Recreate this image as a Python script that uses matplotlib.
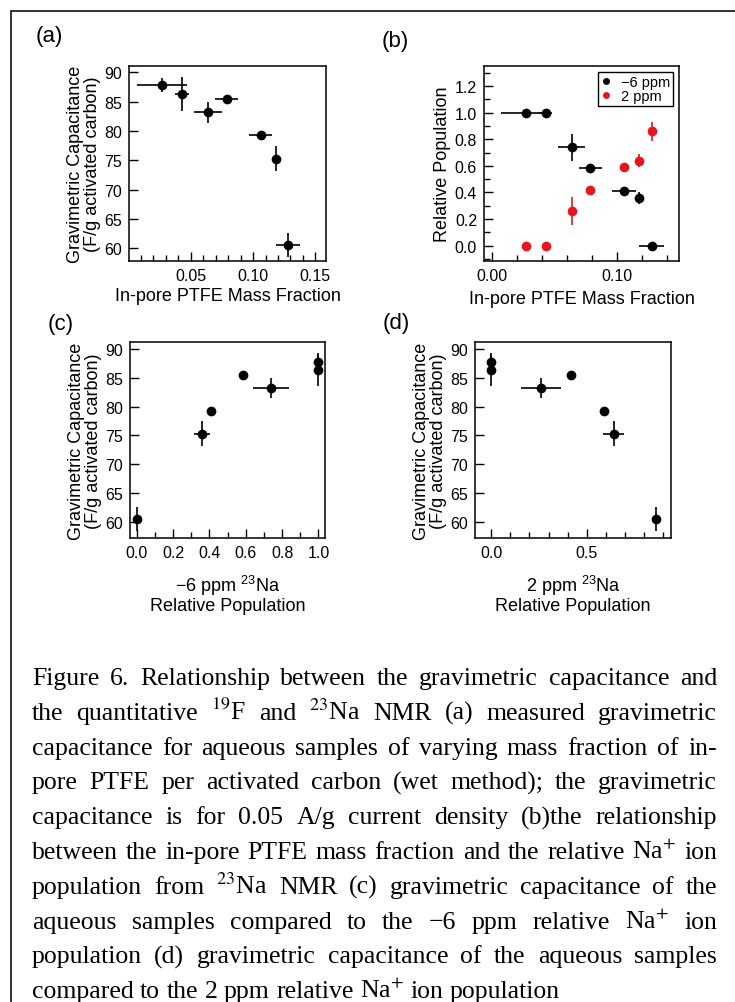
import matplotlib
matplotlib.use("Agg")
import matplotlib.pyplot as plt
from matplotlib.patches import Rectangle
from matplotlib.lines import Line2D
from matplotlib.ticker import MultipleLocator, FormatStrFormatter

plt.rcParams["font.family"] = ["Liberation Sans", "DejaVu Sans"]
plt.rcParams["mathtext.fontset"] = "custom"
plt.rcParams["mathtext.rm"] = "Liberation Sans"
plt.rcParams["mathtext.it"] = "Liberation Sans:italic"

# in-pore PTFE mass fraction of the seven aqueous samples
ptfe_frac = [0.027, 0.043, 0.064, 0.079, 0.106, 0.118, 0.128]
ptfe_err = [0.020, 0.0055, 0.011, 0.0093, 0.0095, 0.003, 0.010]

# gravimetric capacitance at 0.05 A/g, F/g activated carbon
cap = [87.8, 86.4, 83.2, 85.4, 79.3, 75.3, 60.5]
cap_err = [1.2, 2.9, 1.8, 0.3, 0.7, 2.2, 2.0]

# 23Na relative populations of the -6 ppm and 2 ppm environments
pop_m6 = [1.0, 1.0, 0.74, 0.585, 0.41, 0.36, 0.0]
pop_m6_err = [0.0, 0.0, 0.10, 0.015, 0.015, 0.045, 0.0]
pop_2 = [0.0, 0.0, 0.26, 0.415, 0.59, 0.64, 0.86]
pop_2_err = [0.0, 0.0, 0.104, 0.01, 0.01, 0.05, 0.07]
pop_2_xerr = [0.0, 0.0, 0.104, 0.01, 0.015, 0.055, 0.0]

RED = "#e3171d"
CAP_LABEL = "Gravimetric Capacitance\n(F/g activated carbon)"
PTFE_LABEL = "In-pore PTFE Mass Fraction"
LABEL_SIZE = 13
TICK_SIZE = 11.5

caption_lines = [
    "Figure 6. Relationship between the gravimetric capacitance and",
    "the quantitative $^{19}$F and $^{23}$Na NMR (a) measured gravimetric",
    "capacitance for aqueous samples of varying mass fraction of in-",
    "pore PTFE per activated carbon (wet method); the gravimetric",
    "capacitance is for 0.05 A/g current density (b)the relationship",
    "between the in-pore PTFE mass fraction and the relative Na$^{+}$ ion",
    "population from $^{23}$Na NMR (c) gravimetric capacitance of the",
    "aqueous samples compared to the \u22126 ppm relative Na$^{+}$ ion",
    "population (d) gravimetric capacitance of the aqueous samples",
    "compared to the 2 ppm relative Na$^{+}$ ion population",
]

W, H = 735, 1003
fig = plt.figure(figsize=(W / 100, H / 100), dpi=100)


def px_axes(left, top, right, bottom):
    return fig.add_axes([left / W, 1 - bottom / H, (right - left) / W, (bottom - top) / H])


def style(ax):
    for s in ax.spines.values():
        s.set_linewidth(1.1)
    ax.tick_params(which="both", direction="in", width=1.0, labelsize=TICK_SIZE, pad=5)
    ax.tick_params(which="major", length=6.5)
    ax.tick_params(which="minor", length=4)


def draw(ax, x, y, xerr, yerr, color="black"):
    ax.errorbar(x, y, xerr=xerr, yerr=yerr, fmt="o", color=color, ms=7, mew=0,
                ecolor=color, elinewidth=1.2, capsize=2.2, capthick=1.2)


# (a) capacitance vs PTFE fraction
ax_a = px_axes(129, 67, 326, 262)
draw(ax_a, ptfe_frac, cap, ptfe_err, cap_err)
ax_a.set_xlim(0.0005, 0.1585)
ax_a.set_ylim(57.8, 91.1)
ax_a.xaxis.set_major_locator(MultipleLocator(0.05))
ax_a.xaxis.set_minor_locator(MultipleLocator(0.01))
ax_a.xaxis.set_major_formatter(FormatStrFormatter("%.2f"))
ax_a.yaxis.set_major_locator(MultipleLocator(5))
ax_a.set_xlabel(PTFE_LABEL, fontsize=LABEL_SIZE, labelpad=3)
ax_a.set_ylabel(CAP_LABEL, fontsize=LABEL_SIZE, labelpad=2, linespacing=1.0)
style(ax_a)

# (b) relative population vs PTFE fraction
ax_b = px_axes(484, 67, 679, 262)
draw(ax_b, ptfe_frac, pop_m6, ptfe_err, pop_m6_err)
draw(ax_b, ptfe_frac, pop_2, None, pop_2_err, color=RED)
ax_b.set_xlim(-0.0064, 0.150)
ax_b.set_ylim(-0.115, 1.35)
ax_b.xaxis.set_major_locator(MultipleLocator(0.1))
ax_b.xaxis.set_minor_locator(MultipleLocator(0.02))
ax_b.xaxis.set_major_formatter(FormatStrFormatter("%.2f"))
ax_b.yaxis.set_major_locator(MultipleLocator(0.2))
ax_b.yaxis.set_minor_locator(MultipleLocator(0.1))
ax_b.yaxis.set_major_formatter(FormatStrFormatter("%.1f"))
ax_b.set_xlabel(PTFE_LABEL, fontsize=LABEL_SIZE, labelpad=5)
ax_b.set_ylabel("Relative Population", fontsize=LABEL_SIZE, labelpad=3)
handles = [Line2D([], [], ls="", marker="o", ms=5, mew=0, color="black"),
           Line2D([], [], ls="", marker="o", ms=5, mew=0, color=RED)]
leg = ax_b.legend(handles, ["\u22126 ppm", "2 ppm"], loc="upper right", fontsize=10.5,
                  frameon=True, fancybox=False, framealpha=1, edgecolor="black",
                  handlelength=0.8, handletextpad=0.6, borderpad=0.2,
                  labelspacing=0.0, borderaxespad=0.4)
leg.get_frame().set_linewidth(1.0)
style(ax_b)

# (c) capacitance vs -6 ppm population
ax_c = px_axes(130, 343, 325, 539)
draw(ax_c, pop_m6, cap, pop_m6_err, cap_err)
ax_c.set_xlim(-0.037, 1.036)
ax_c.set_ylim(57.2, 91.2)
ax_c.xaxis.set_major_locator(MultipleLocator(0.2))
ax_c.xaxis.set_minor_locator(MultipleLocator(0.1))
ax_c.xaxis.set_major_formatter(FormatStrFormatter("%.1f"))
ax_c.yaxis.set_major_locator(MultipleLocator(5))
ax_c.set_xlabel("\u22126 ppm $^{\\mathrm{23}}$Na\nRelative Population", fontsize=LABEL_SIZE,
                labelpad=9, linespacing=1.0)
ax_c.set_ylabel(CAP_LABEL, fontsize=LABEL_SIZE, labelpad=2, linespacing=1.0)
style(ax_c)

# (d) capacitance vs 2 ppm population
ax_d = px_axes(475, 343, 671, 539)
draw(ax_d, pop_2, cap, pop_2_xerr, cap_err)
ax_d.set_xlim(-0.084, 0.94)
ax_d.set_ylim(57.2, 91.2)
ax_d.xaxis.set_major_locator(MultipleLocator(0.5))
ax_d.xaxis.set_minor_locator(MultipleLocator(0.1))
ax_d.xaxis.set_major_formatter(FormatStrFormatter("%.1f"))
ax_d.yaxis.set_major_locator(MultipleLocator(5))
ax_d.set_xlabel("2 ppm $^{\\mathrm{23}}$Na\nRelative Population", fontsize=LABEL_SIZE,
                labelpad=9, linespacing=1.0)
ax_d.set_ylabel(CAP_LABEL, fontsize=LABEL_SIZE, labelpad=2, linespacing=1.0)
style(ax_d)

# panel letters
for lbl, x, y in [("(a)", 36, 42), ("(b)", 382, 47), ("(c)", 48, 330), ("(d)", 383, 329)]:
    fig.text(x / W, 1 - y / H, lbl, fontsize=16, va="baseline")

# frame around the figure block
fig.add_artist(Rectangle((11 / W, -0.05), 1.2, 1 - 12 / H + 0.05, transform=fig.transFigure,
                         fill=False, edgecolor="#222222", linewidth=1.3, clip_on=False))

# justified caption, word by word
renderer = fig.canvas.get_renderer()
cap_kw = dict(fontsize=18.5, family=["Liberation Serif", "DejaVu Serif"],
              math_fontfamily="stix", va="baseline")
left_px, right_px = 32, 717
base0, step = 685, 34.8


def text_width(s, y):
    t = fig.text(0, y, s, **cap_kw)
    w = t.get_window_extent(renderer).width
    t.remove()
    return w


for i, line in enumerate(caption_lines):
    y = 1 - (base0 + i * step) / H
    words = line.split(" ")
    texts = [fig.text(0, y, w, **cap_kw) for w in words]
    widths = [t.get_window_extent(renderer).width for t in texts]
    if i == len(caption_lines) - 1:
        gap = text_width("a a", y) - 2 * text_width("a", y)
    else:
        gap = (right_px - left_px - sum(widths)) / (len(words) - 1)
    x = left_px
    for t, w in zip(texts, widths):
        t.set_x(x / W)
        x += w + gap

fig.savefig("out.png", dpi=100)
